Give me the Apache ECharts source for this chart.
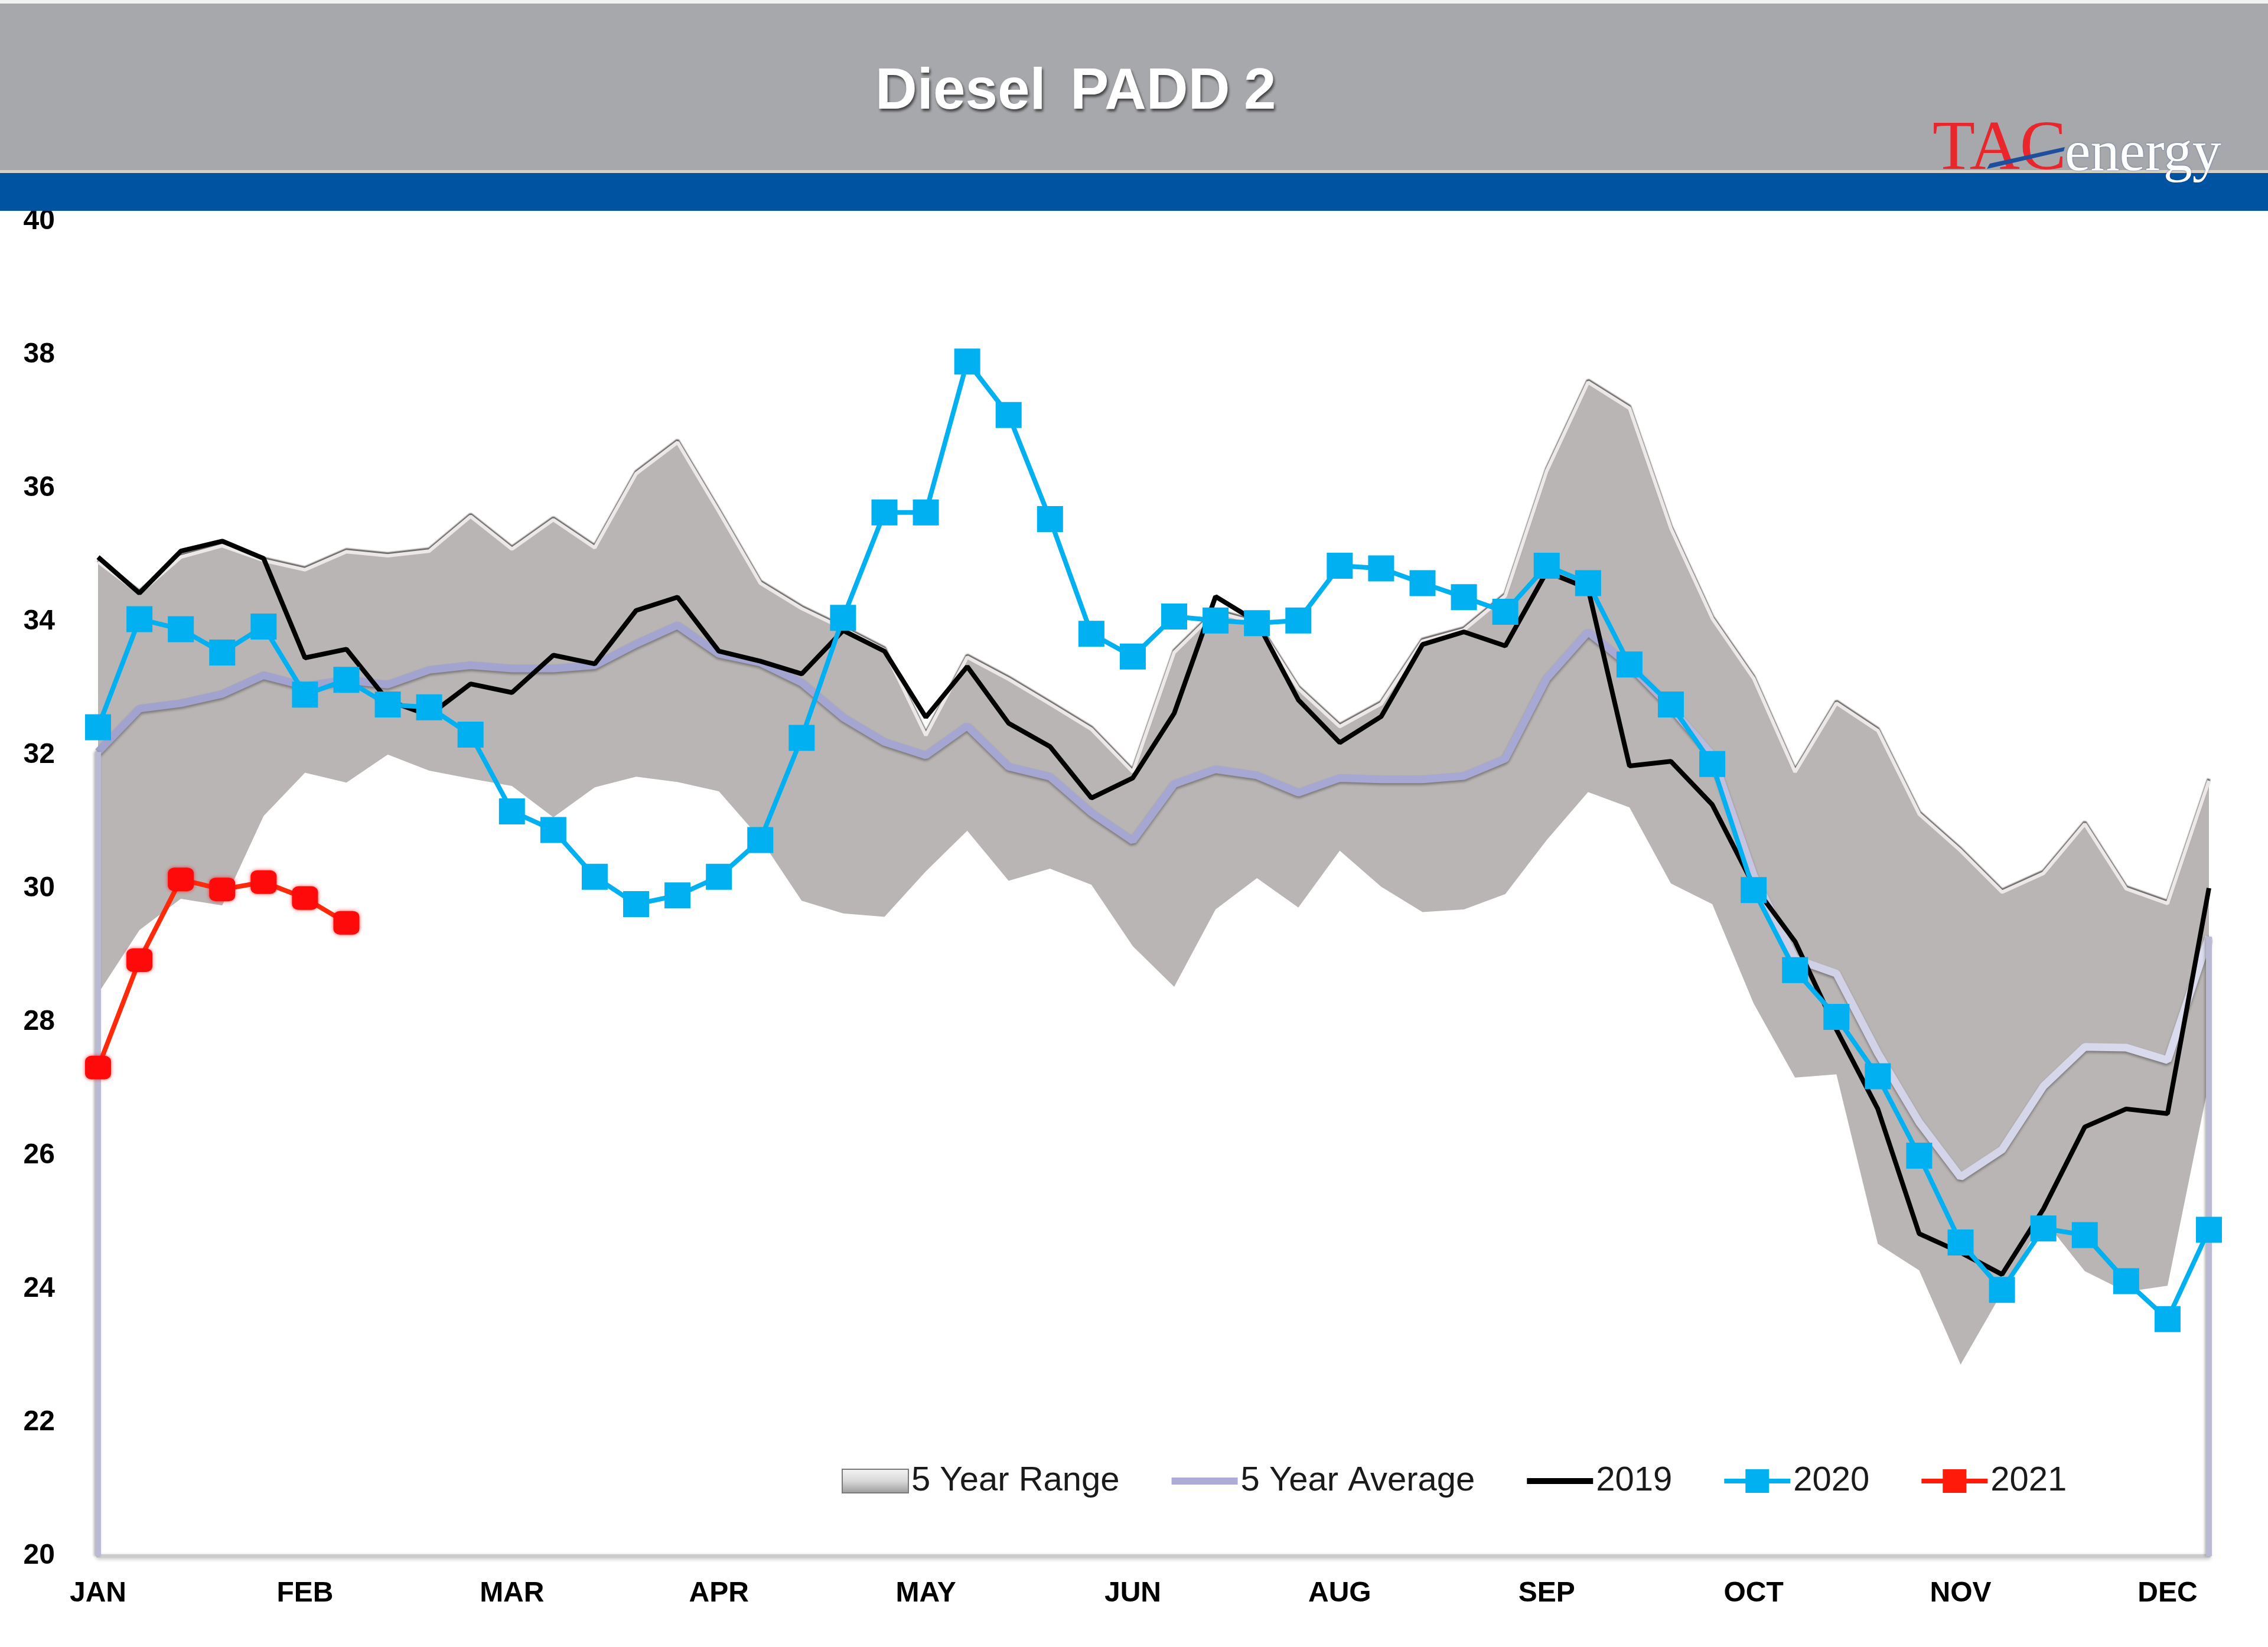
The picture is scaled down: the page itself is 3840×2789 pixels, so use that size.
<!DOCTYPE html>
<html><head><meta charset="utf-8">
<script src="https://cdn.jsdelivr.net/npm/echarts@6/dist/echarts.min.js"></script>
<style>html,body{margin:0;padding:0;background:#fff}#chart{width:3840px;height:2789px}</style>
</head><body><div id="chart"></div>
<script>
// ---- data (weekly, 52 weeks) ----
const categories = ['W1','W2','W3','W4','W5','W6','W7','W8','W9','W10','W11','W12','W13','W14','W15','W16','W17','W18','W19','W20','W21','W22','W23','W24','W25','W26','W27','W28','W29','W30','W31','W32','W33','W34','W35','W36','W37','W38','W39','W40','W41','W42','W43','W44','W45','W46','W47','W48','W49','W50','W51','W52'];
const monthLabels = ['JAN','FEB','MAR','APR','MAY','JUN','AUG','SEP','OCT','NOV','DEC'];
const rangeLow = [28.43,29.38,29.85,29.75,31.09,31.74,31.59,32.01,31.77,31.65,31.54,31.07,31.52,31.68,31.60,31.46,30.75,29.82,29.63,29.58,30.26,30.87,30.12,30.30,30.06,29.14,28.53,29.69,30.16,29.72,30.57,30.03,29.65,29.69,29.92,30.73,31.45,31.22,30.08,29.77,28.28,27.17,27.22,24.68,24.28,22.87,23.95,25.05,24.27,23.96,24.05,27.10];
const rangeHigh = [34.90,34.43,34.97,35.14,34.92,34.78,35.05,34.99,35.06,35.58,35.09,35.53,35.11,36.22,36.69,35.65,34.58,34.20,33.90,33.58,32.30,33.47,33.14,32.77,32.39,31.75,33.54,34.15,33.98,33.00,32.43,32.77,33.71,33.88,34.39,36.26,37.59,37.20,35.40,34.05,33.15,31.75,32.78,32.37,31.12,30.57,29.95,30.23,30.97,30.00,29.78,31.62];
const avg5 = [32.05,32.70,32.78,32.92,33.20,33.04,33.13,33.06,33.28,33.35,33.30,33.30,33.35,33.67,33.95,33.52,33.39,33.09,32.57,32.20,32.00,32.44,31.83,31.68,31.14,30.72,31.57,31.79,31.70,31.44,31.66,31.64,31.64,31.69,31.95,33.15,33.85,33.35,32.72,32.00,30.20,28.95,28.73,27.54,26.50,25.68,26.09,27.04,27.63,27.62,27.43,29.28];
const y2019 = [34.97,34.43,35.06,35.21,34.95,33.46,33.59,32.82,32.60,33.07,32.94,33.50,33.37,34.17,34.37,33.56,33.41,33.22,33.87,33.56,32.57,33.33,32.48,32.13,31.36,31.66,32.63,34.38,34.00,32.83,32.19,32.58,33.66,33.85,33.64,34.75,34.50,31.84,31.91,31.26,30.05,29.21,27.89,26.70,24.83,24.55,24.22,25.20,26.43,26.70,26.63,30.01];
const y2020 = [32.42,34.04,33.89,33.54,33.93,32.91,33.13,32.76,32.72,32.31,31.16,30.88,30.18,29.77,29.90,30.18,30.73,32.26,34.06,35.64,35.64,37.90,37.10,35.54,33.82,33.48,34.08,34.02,33.98,34.02,34.84,34.80,34.58,34.37,34.15,34.84,34.58,33.36,32.76,31.87,29.98,28.78,28.08,27.19,26.00,24.70,23.99,24.91,24.81,24.12,23.55,24.89];
const y2021 = [27.32,28.93,30.14,29.99,30.10,29.86,29.49];
const yMin = 20, yMax = 40, yStep = 2;

const rangeSpan = rangeHigh.map((v, i) => +(v - rangeLow[i]).toFixed(2));
const FONT = "'Liberation Sans', Arial, sans-serif";

const chart = echarts.init(document.getElementById('chart'), null, {renderer: 'canvas'});

const avgGradient = new echarts.graphic.LinearGradient(0, 0, 1, 0, [
  {offset: 0, color: '#a2a2cf'},
  {offset: 0.72, color: '#a8a8d4'},
  {offset: 0.8, color: '#cfcfe6'},
  {offset: 1, color: '#dcdcef'}
]);

const ICON_BAR_THICK = 'path://M0,0L112,0L112,12L0,12Z';
const ICON_BAR = 'path://M0,0L112,0L112,10L0,10Z';
const ICON_MARK = 'path://M0,16L36,16L36,0L76,0L76,16L112,16L112,24L76,24L76,40L36,40L36,24L0,24Z';
const titleStyle = {fill: '#ffffff', font: "bold 98px 'Liberation Sans', Arial", textShadowColor: 'rgba(40,40,40,0.8)', textShadowBlur: 4, textShadowOffsetX: 2, textShadowOffsetY: 4};

const option = {
  animation: false,
  backgroundColor: '#ffffff',
  grid: {left: 166, right: 100, top: 375, bottom: 154, containLabel: false},
  legend: {
    left: 1420, top: 2474,
    itemWidth: 112, itemHeight: 40, itemGap: 88,
    symbolKeepAspect: true,
    textStyle: {fontFamily: FONT, fontSize: 58, color: '#1a1a1a'},
    data: [
      {name: '5 Year Range', icon: 'rect', itemStyle: {
        color: new echarts.graphic.LinearGradient(0, 0, 0, 1, [
          {offset: 0, color: '#f4f4f4'}, {offset: 0.5, color: '#d8d8d8'}, {offset: 1, color: '#9a9a9a'}]),
        borderColor: '#7a7a7a', borderWidth: 2}},
      {name: '5 Year Average', icon: ICON_BAR_THICK, itemStyle: {color: '#acacd6', borderWidth: 0}},
      {name: '2019', icon: ICON_BAR, itemStyle: {color: '#000000', borderWidth: 0}},
      {name: '2020', icon: ICON_MARK, itemStyle: {color: '#00b0f0', borderWidth: 0}},
      {name: '2021', icon: ICON_MARK, itemStyle: {color: '#ff1a0a', borderWidth: 0}}
    ]
  },
  xAxis: {
    type: 'category', data: categories, boundaryGap: false,
    axisLine: {show: true, lineStyle: {color: '#cccccc', width: 6, shadowColor: 'rgba(0,0,0,0.25)', shadowBlur: 6, shadowOffsetY: 2}},
    axisTick: {show: false},
    splitLine: {show: false},
    axisLabel: {
      interval: 4, margin: 40,
      fontFamily: FONT, fontWeight: 'bold', fontSize: 48, color: '#000',
      formatter: (v, idx) => (idx % 5 === 0 ? (monthLabels[idx / 5] || '') : '')
    }
  },
  yAxis: {
    type: 'value', min: yMin, max: yMax, interval: yStep,
    axisLine: {show: false}, axisTick: {show: false},
    splitLine: {show: false},
    axisLabel: {margin: 73, fontFamily: FONT, fontWeight: 'bold', fontSize: 48, color: '#000'}
  },
  series: [
    {
      name: 'rangeBase', type: 'line', stack: 'range', data: rangeLow,
      symbol: 'none', silent: true, lineStyle: {opacity: 0}, z: 1
    },
    {
      name: '5 Year Range', type: 'line', stack: 'range', data: rangeSpan,
      symbol: 'none', silent: true, z: 2,
      areaStyle: {color: '#b9b5b4', opacity: 1},
      lineStyle: {color: '#ece8e8', width: 6, shadowColor: 'rgba(70,64,64,0.8)', shadowBlur: 2, shadowOffsetY: -3},
      itemStyle: {color: '#b9b5b4'}
    },
    {
      name: '5 Year Average', type: 'line', data: avg5, symbol: 'none', z: 3,
      lineStyle: {color: avgGradient, width: 13, shadowColor: 'rgba(0,0,0,0.35)', shadowBlur: 4, shadowOffsetY: 3},
      itemStyle: {color: '#a8a8d4'},
      markLine: {
        symbol: 'none', silent: true, label: {show: false},
        lineStyle: {color: '#babad4', width: 10, type: 'solid', shadowColor: 'rgba(0,0,0,0.3)', shadowBlur: 4, shadowOffsetX: -2},
        data: [
          [{coord: [categories[0], avg5[0]]}, {coord: [categories[0], yMin]}],
          [{coord: [categories[51], avg5[51]]}, {coord: [categories[51], yMin]}]
        ]
      }
    },
    {
      name: '2019', type: 'line', data: y2019, symbol: 'none', z: 4,
      lineStyle: {color: '#000000', width: 8},
      itemStyle: {color: '#000000'}
    },
    {
      name: '2020', type: 'line', data: y2020, symbol: 'rect', symbolSize: 44, z: 5,
      lineStyle: {color: '#00b0f0', width: 8},
      itemStyle: {color: '#00b0f0'}
    },
    {
      name: '2021', type: 'line', data: y2021, symbol: 'roundRect', symbolSize: [44, 40], z: 6,
      lineStyle: {color: '#ff2a0a', width: 8},
      itemStyle: {color: '#ff0a0a', shadowColor: 'rgba(255,0,0,0.7)', shadowBlur: 6}
    }
  ],
  graphic: [
    {type: 'rect', z: 100, shape: {x: 0, y: 0, width: 3840, height: 6}, style: {fill: '#f2f2f2'}},
    {type: 'rect', z: 100, shape: {x: 0, y: 6, width: 3840, height: 283}, style: {fill: '#a7a8ac'}},
    {type: 'rect', z: 100, shape: {x: 0, y: 288, width: 3840, height: 6}, style: {fill: '#d6d0c6'}},
    {type: 'rect', z: 100, shape: {x: 0, y: 293, width: 3840, height: 64}, style: {fill: '#0053a1'}},
    {type: 'text', z: 101, left: 1482, top: 108, style: Object.assign({text: 'Diesel'}, titleStyle)},
    {type: 'text', z: 101, left: 1812, top: 108, style: Object.assign({text: 'PADD'}, titleStyle)},
    {type: 'text', z: 101, left: 2106, top: 108, style: Object.assign({text: '2'}, titleStyle)},
    {type: 'text', z: 101, x: 3272, y: 255, style: {text: 'TAC', fill: '#e8262c', font: "118px 'Liberation Serif', 'Times New Roman', serif", verticalAlign: 'middle'}},
    {type: 'text', z: 101, x: 3496, y: 262, style: {text: 'energy', fill: '#ffffff', font: "98px 'Liberation Serif', 'Times New Roman', serif", verticalAlign: 'middle', textShadowColor: 'rgba(0,40,120,0.5)', textShadowBlur: 3}},
    {type: 'polygon', z: 102, shape: {points: [[3364, 286], [3369, 277], [3496, 249], [3494, 256]]}, style: {fill: '#1d4f9e'}}
  ]
};
chart.setOption(option);
</script>
</body></html>
